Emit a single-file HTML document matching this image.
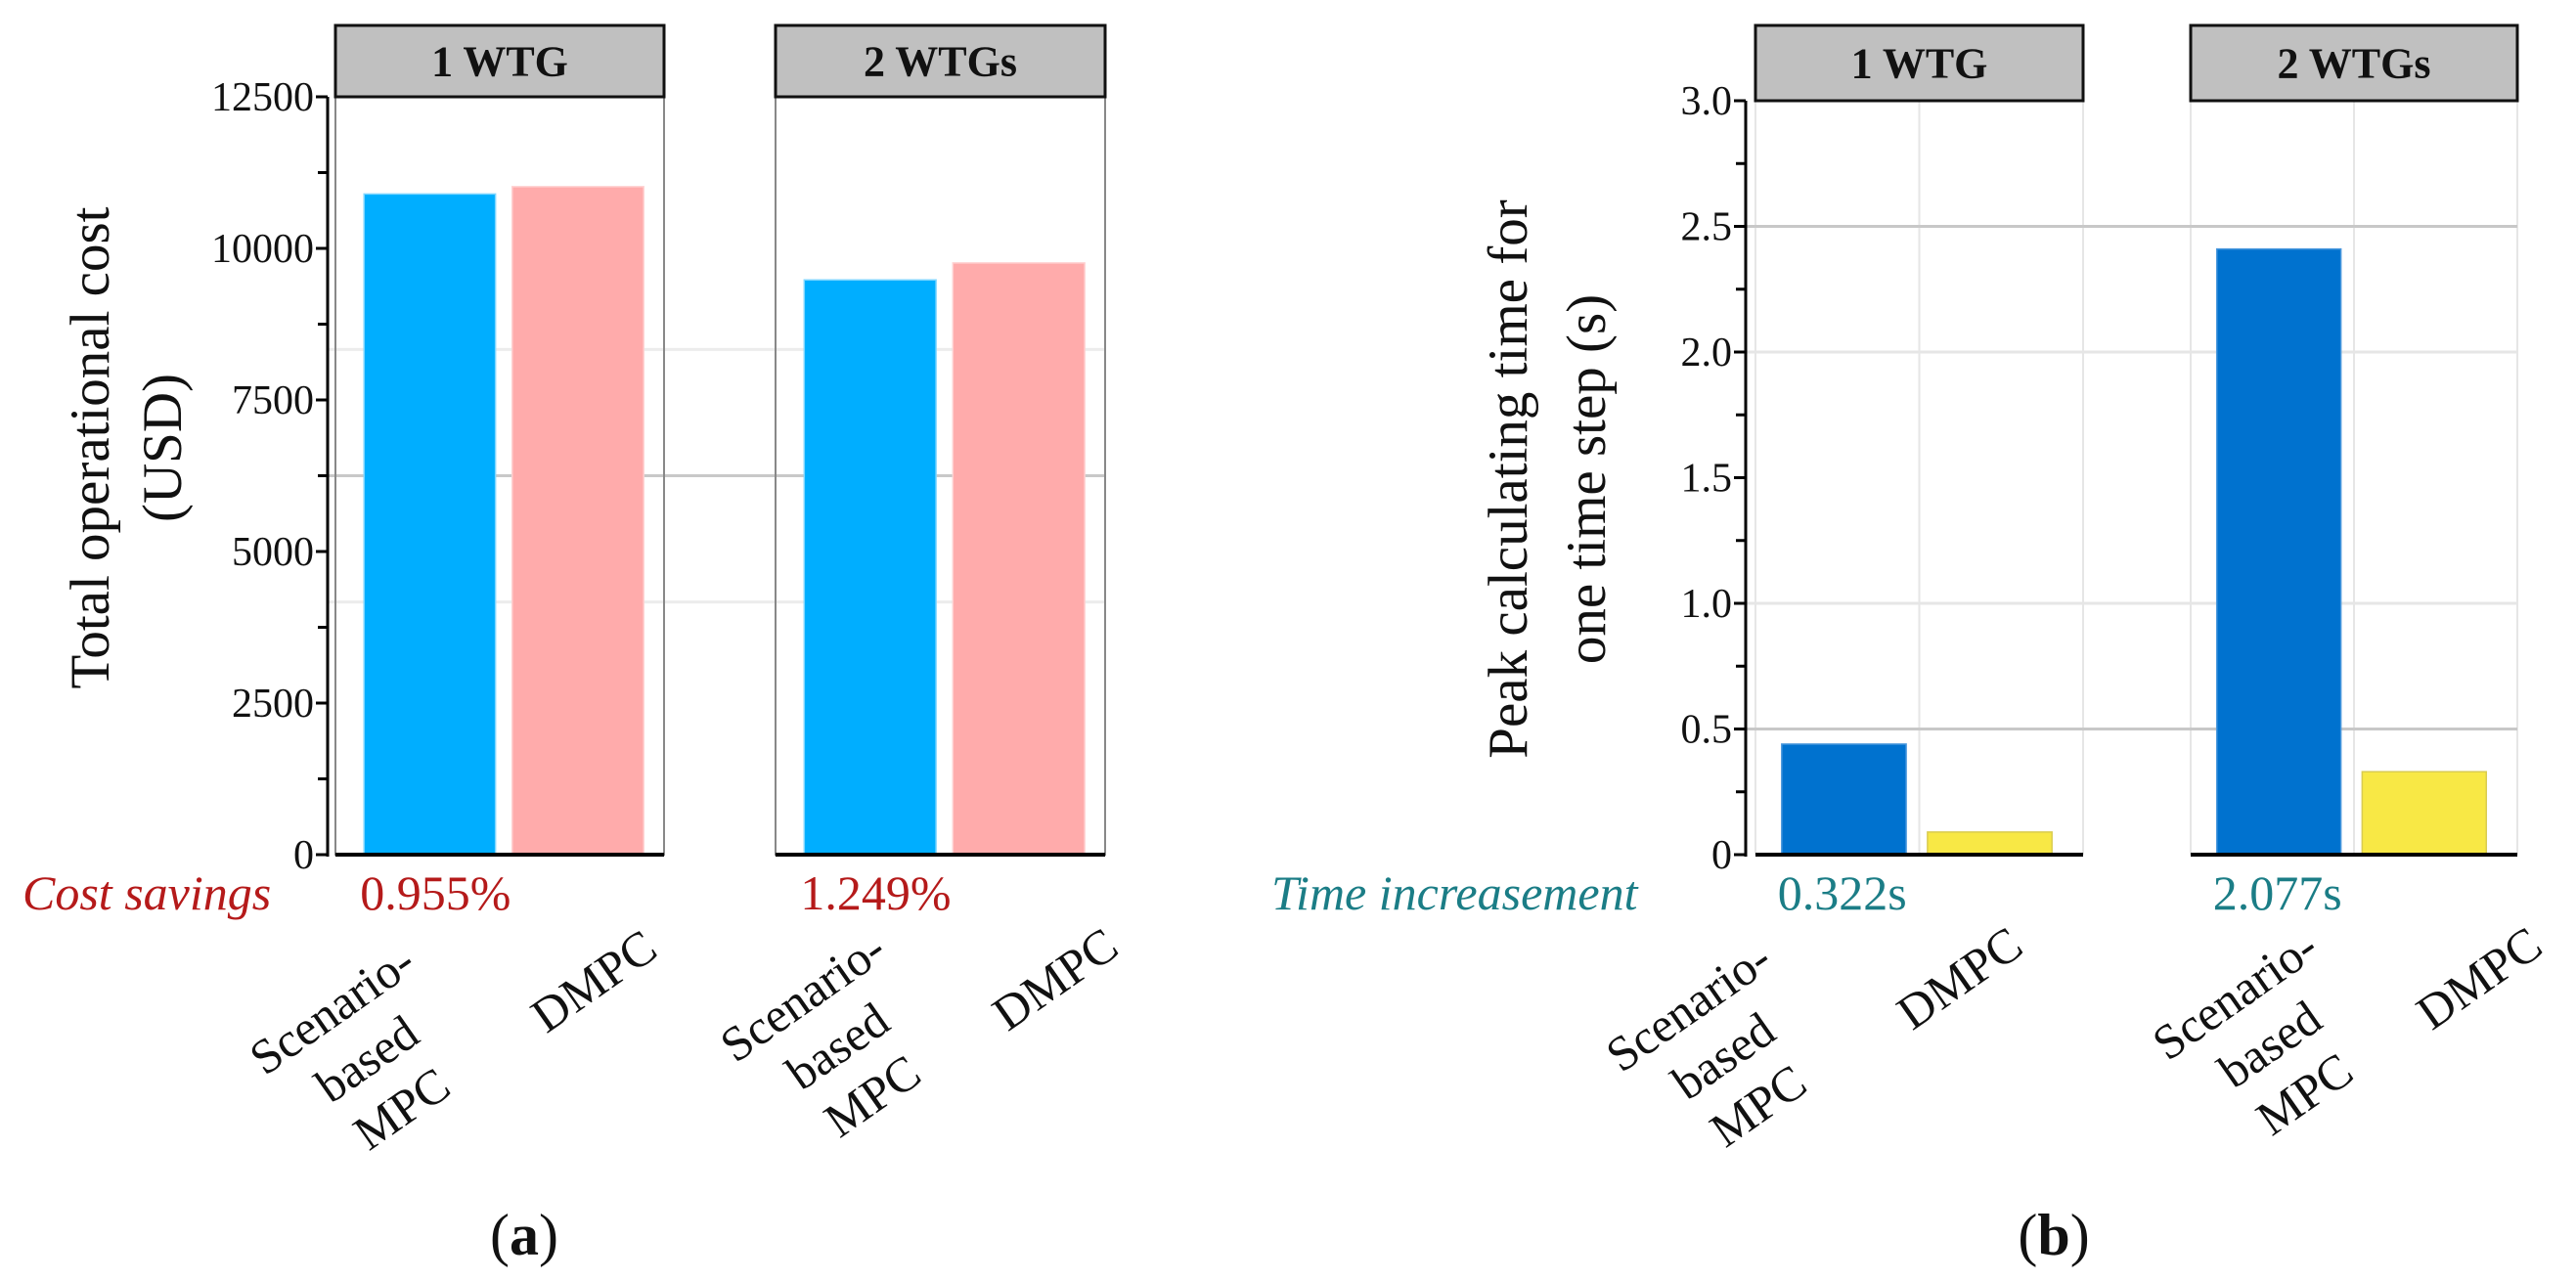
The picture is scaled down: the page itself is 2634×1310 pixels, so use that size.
<!DOCTYPE html>
<html><head><meta charset="utf-8"><style>
html,body{margin:0;padding:0;background:#fff;}
svg{display:block;font-family:"Liberation Serif",serif;}
</style></head><body>
<svg id="fig" width="2634" height="1310" viewBox="0 0 2634 1310" xmlns="http://www.w3.org/2000/svg">
<g id="ga"></g>
<g id="gb"></g>
</svg>
<script>
// ---- data ----
const panels = ["1 WTG", "2 WTGs"];
const methods = ["Scenario-based MPC", "DMPC"];
const costScenario = [10897, 9480];
const costDMPC = [11018, 9760];
const costTicks = [0, 2500, 5000, 7500, 10000, 12500];
const costSavings = ["0.955%", "1.249%"];
const timeScenario = [0.44, 2.41];
const timeDMPC = [0.09, 0.33];
const timeTicks = [0, 0.5, 1.0, 1.5, 2.0, 2.5, 3.0];
const timeTickLabels = ["0", "0.5", "1.0", "1.5", "2.0", "2.5", "3.0"];
const timeIncrease = ["0.322s", "2.077s"];

const NS = "http://www.w3.org/2000/svg";
function mk(parent, tag, attrs, text) {
  const e = document.createElementNS(NS, tag);
  for (const k in attrs) e.setAttribute(k, attrs[k]);
  if (text !== undefined) e.textContent = text;
  parent.appendChild(e);
  return e;
}

function drawChart(g, cfg) {
  const y = v => cfg.y0 - v * (cfg.y0 - cfg.yTop) / cfg.vmax;
  const px = (p, f) => cfg.panelX[p][0] + f * (cfg.panelX[p][1] - cfg.panelX[p][0]);
  const pw = p => cfg.panelX[p][1] - cfg.panelX[p][0];
  const xL = cfg.panelX[0][0], xR = cfg.panelX[1][1];

  // grid
  if (cfg.vgrid) {
    for (let p = 0; p < 2; p++) {
      [0, 0.5, 1].forEach(f => {
        const l = mk(g, "line", {x1: px(p, f), x2: px(p, f), y1: cfg.yTop, y2: cfg.y0, stroke: "#e6e6e6", "stroke-width": 2});
        
        
      });
    }
  }
  cfg.hgrid.forEach((v, i) => {
    const l = mk(g, "line", {x1: cfg.axisX, x2: xR, y1: y(v), y2: y(v), stroke: cfg.hgridColor[i], "stroke-width": 3});
    
    
  });

  // panel frames + strips
  for (let p = 0; p < 2; p++) {
    const [a, b] = cfg.panelX[p];
    if (cfg.frame) {
      const f = mk(g, "rect", {x: a, y: cfg.yTop, width: b - a, height: cfg.y0 - cfg.yTop, fill: "none", stroke: "#888", "stroke-width": 2});
      
      
    }
    const s = mk(g, "rect", {x: a, y: cfg.stripTop, width: b - a, height: cfg.yTop - cfg.stripTop, fill: "#c0c0c0", stroke: "#111", "stroke-width": 3});
    
    
    const st = mk(g, "text", {x: (a + b) / 2, y: (cfg.stripTop + cfg.yTop) / 2 + 15, "text-anchor": "middle", "font-size": 44, "font-weight": "bold", fill: "#111"}, panels[p]);
    
    
  }

  // bars
  for (let p = 0; p < 2; p++) {
    const series = [cfg.s1[p], cfg.s2[p]];
    series.forEach((v, k) => {
      const c = px(p, cfg.barCenters[k]);
      const w = pw(p) * cfg.barWidth;
      const r = mk(g, "rect", {x: c - w / 2, y: y(v), width: w, height: cfg.y0 - y(v), fill: cfg.colors[k], stroke: cfg.strokes[k], "stroke-width": 1.5});
      
      
    });
    const base = mk(g, "line", {x1: cfg.panelX[p][0], x2: cfg.panelX[p][1], y1: cfg.y0, y2: cfg.y0, stroke: "#000", "stroke-width": 4});
    
    
  }

  // y axis
  const ax = mk(g, "line", {x1: cfg.axisX, x2: cfg.axisX, y1: cfg.yTop, y2: cfg.y0 + 2, stroke: "#000", "stroke-width": 3});
  
  
  cfg.ticks.forEach((v, i) => {
    const t = mk(g, "line", {x1: cfg.axisX - 12, x2: cfg.axisX, y1: y(v), y2: y(v), stroke: "#000", "stroke-width": 3});
    
    
    const lb = mk(g, "text", {x: cfg.axisX - 14, y: y(v) + 14, "text-anchor": "end", "font-size": 42, fill: "#111"}, cfg.tickLabels[i]);
    
    
    if (i < cfg.ticks.length - 1) {
      const mv = (v + cfg.ticks[i + 1]) / 2;
      const m = mk(g, "line", {x1: cfg.axisX - 10, x2: cfg.axisX, y1: y(mv), y2: y(mv), stroke: "#000", "stroke-width": 3});
      
      
    }
  });

  // y title
  const tt = mk(g, "text", {transform: `translate(${cfg.titleX[0]},${cfg.titleY}) rotate(-90)`, "text-anchor": "middle", "font-size": 57, fill: "#111"});
  
  
  mk(tt, "tspan", {x: 0, y: 18}, cfg.title[0]);
  mk(tt, "tspan", {x: 0, y: 18 + (cfg.titleX[1] - cfg.titleX[0])}, cfg.title[1]);

  // annotation row
  const an = mk(g, "text", {x: cfg.annX, y: 930, "font-size": 50, "font-style": "italic", fill: cfg.annColor}, cfg.annLabel);
  
  
  for (let p = 0; p < 2; p++) {
    const v = mk(g, "text", {x: px(p, cfg.barCenters[0]) - pw(p) * cfg.barWidth / 2 - 4, y: 930, "font-size": 50, fill: cfg.annColor}, cfg.annValues[p]);
    
    
  }

  // rotated category labels
  for (let p = 0; p < 2; p++) {
    for (let k = 0; k < 2; k++) {
      const c = px(p, cfg.barCenters[k]);
      const off = cfg.labelOff[p][k];
      const lines = k === 0 ? ["Scenario-", "based", "MPC"] : ["DMPC"];
      const tg = mk(g, "text", {transform: `translate(${c + off[0]},${cfg.y0 + off[1]}) rotate(-35)`, "text-anchor": "middle", "font-size": 50, fill: "#111"});
      
      
      lines.forEach((s, j) => mk(tg, "tspan", {x: 0, y: 17 + j * 62}, s));
    }
  }

  const cap = mk(g, "text", {x: cfg.capX, y: 1283, "text-anchor": "middle", "font-size": 60, fill: "#111"});
  
  
  mk(cap, "tspan", {}, "(");
  mk(cap, "tspan", {"font-weight": "bold"}, cfg.capLetter);
  mk(cap, "tspan", {}, ")");
}

drawChart(document.getElementById("ga"), {
  y0: 874, yTop: 99, vmax: 12500, stripTop: 26,
  panelX: [[343, 679], [793, 1130]], axisX: 335, frame: true, vgrid: false,
  hgrid: [12500 * 2 / 3, 6250, 12500 / 3], hgridColor: ["#ececec", "#c8c8c8", "#ececec"],
  barCenters: [0.287, 0.738], barWidth: 0.40,
  s1: costScenario, s2: costDMPC, colors: ["#00aeff", "#ffabab"], strokes: ["#7fd6ff", "#ffd0d0"],
  ticks: costTicks, tickLabels: costTicks.map(String),
  title: ["Total operational cost", "(USD)"], titleX: [93, 167], titleY: 458,
  annX: 23, annLabel: "Cost savings", annColor: "#b51a1a", annValues: costSavings,
  labelOff: [[[-100, 158], [16, 129]], [[-69, 145], [37, 127]]],
  capX: 536, capLetter: "a"
});
drawChart(document.getElementById("gb"), {
  y0: 874, yTop: 103, vmax: 3, stripTop: 26,
  panelX: [[1795, 2130], [2240, 2574]], axisX: 1785, frame: false, vgrid: true,
  hgrid: [0.5, 1.0, 2.0, 2.5], hgridColor: ["#c8c8c8", "#e6e6e6", "#e6e6e6", "#c8c8c8"],
  barCenters: [0.27, 0.715], barWidth: 0.38,
  s1: timeScenario, s2: timeDMPC, colors: ["#0072cf", "#f8e845"], strokes: ["#4a98dd", "#d9cc50"],
  ticks: timeTicks, tickLabels: timeTickLabels,
  title: ["Peak calculating time for", "one time step (s)"], titleX: [1543, 1623], titleY: 490,
  annX: 1300, annLabel: "Time increasement", annColor: "#1b7d86", annValues: timeIncrease,
  labelOff: [[[-159, 155], [-31, 126]], [[-45, 143], [56, 126]]],
  capX: 2100, capLetter: "b"
});
</script>
</body></html>
